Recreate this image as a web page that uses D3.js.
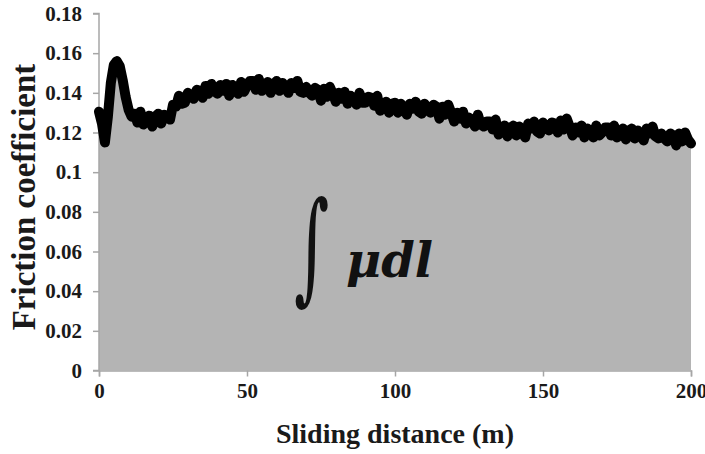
<!DOCTYPE html>
<html>
<head>
<meta charset="utf-8">
<script src="https://cdn.jsdelivr.net/npm/d3@7"></script>
<style>
  body { margin: 0; background: #fff; }
  svg { display: block; }
</style>
</head>
<body>
<svg id="chart" width="705" height="454"></svg>
<script>
// sliding distance (m), one reading per metre
var distance = [
  0,1,2,3,4,5,6,7,8,9,10,11,12,13,14,15,16,17,18,19,
  20,21,22,23,24,25,26,27,28,29,30,31,32,33,34,35,36,37,38,39,
  40,41,42,43,44,45,46,47,48,49,50,51,52,53,54,55,56,57,58,59,
  60,61,62,63,64,65,66,67,68,69,70,71,72,73,74,75,76,77,78,79,
  80,81,82,83,84,85,86,87,88,89,90,91,92,93,94,95,96,97,98,99,
  100,101,102,103,104,105,106,107,108,109,110,111,112,113,114,115,116,117,118,119,
  120,121,122,123,124,125,126,127,128,129,130,131,132,133,134,135,136,137,138,139,
  140,141,142,143,144,145,146,147,148,149,150,151,152,153,154,155,156,157,158,159,
  160,161,162,163,164,165,166,167,168,169,170,171,172,173,174,175,176,177,178,179,
  180,181,182,183,184,185,186,187,188,189,190,191,192,193,194,195,196,197,198,199,
  200
];

// friction coefficient (noisy trace)
var friction = [
  0.1305,0.1245,0.1150,0.1280,0.1450,0.1540,0.1560,0.1535,0.1465,0.1380,
  0.1315,0.1280,0.1295,0.1250,0.1305,0.1240,0.1260,0.1285,0.1230,0.1280,
  0.1295,0.1245,0.1290,0.1275,0.1265,0.1340,0.1330,0.1385,0.1345,0.1350,
  0.1400,0.1380,0.1370,0.1415,0.1410,0.1375,0.1435,0.1395,0.1445,0.1410,
  0.1395,0.1440,0.1410,0.1445,0.1385,0.1440,0.1430,0.1395,0.1455,0.1405,
  0.1435,0.1460,0.1460,0.1415,0.1470,0.1410,0.1425,0.1455,0.1400,0.1445,
  0.1460,0.1410,0.1450,0.1425,0.1400,0.1450,0.1425,0.1460,0.1405,0.1400,
  0.1430,0.1400,0.1385,0.1425,0.1415,0.1360,0.1420,0.1380,0.1430,0.1395,
  0.1355,0.1400,0.1370,0.1405,0.1345,0.1385,0.1375,0.1340,0.1400,0.1350,
  0.1350,0.1380,0.1375,0.1335,0.1385,0.1310,0.1325,0.1355,0.1300,0.1345,
  0.1350,0.1300,0.1345,0.1315,0.1290,0.1345,0.1320,0.1355,0.1305,0.1295,
  0.1345,0.1315,0.1300,0.1340,0.1330,0.1270,0.1330,0.1290,0.1340,0.1300,
  0.1255,0.1300,0.1270,0.1305,0.1245,0.1275,0.1265,0.1230,0.1290,0.1240,
  0.1230,0.1255,0.1255,0.1215,0.1265,0.1190,0.1205,0.1235,0.1180,0.1225,
  0.1235,0.1185,0.1230,0.1200,0.1175,0.1245,0.1220,0.1255,0.1205,0.1195,
  0.1250,0.1225,0.1210,0.1250,0.1245,0.1200,0.1260,0.1215,0.1270,0.1230,
  0.1185,0.1225,0.1200,0.1235,0.1175,0.1220,0.1210,0.1175,0.1235,0.1185,
  0.1200,0.1225,0.1225,0.1185,0.1235,0.1175,0.1190,0.1220,0.1165,0.1210,
  0.1220,0.1170,0.1210,0.1185,0.1160,0.1220,0.1195,0.1230,0.1180,0.1170,
  0.1195,0.1170,0.1155,0.1195,0.1185,0.1135,0.1195,0.1155,0.1200,0.1165,
  0.1145
];

var xTicks = [0, 50, 100, 150, 200];
var yTicks = [0, 0.02, 0.04, 0.06, 0.08, 0.1, 0.12, 0.14, 0.16, 0.18];
var yTickLabels = ["0","0.02","0.04","0.06","0.08","0.1","0.12","0.14","0.16","0.18"];

var svg = d3.select("#chart");
var plotLeft = 99, plotRight = 691, plotTop = 13.5, plotBottom = 370.5;

var xScale = d3.scaleLinear().domain([0, 200]).range([plotLeft, plotRight]);
var yScale = d3.scaleLinear().domain([0, 0.18]).range([plotBottom, plotTop]);

var pts = distance.map(function(d, i) { return [d, friction[i]]; });

// grey area under the curve
var area = d3.area()
    .x(function(d) { return xScale(d[0]); })
    .y0(yScale(0))
    .y1(function(d) { return yScale(d[1]); });

svg.append("path")
    .datum(pts)
    .attr("d", area)
    .style("fill", "#b4b4b4");

// axes
var xAxis = d3.axisBottom(xScale).tickValues(xTicks).tickSize(6).tickPadding(7)
    .tickFormat(function(d) { return d; });
var yAxis = d3.axisLeft(yScale).tickValues(yTicks).tickSize(6).tickPadding(11)
    .tickFormat(function(d, i) { return yTickLabels[i]; });

var gx = svg.append("g")
    .attr("transform", "translate(0," + plotBottom + ")")
    .call(xAxis);
var gy = svg.append("g")
    .attr("transform", "translate(" + plotLeft + ",0)")
    .call(yAxis);

[gx, gy].forEach(function(g) {
    g.select(".domain").style("stroke", "#a6a6a6").style("stroke-width", "1.5px");
    g.selectAll(".tick line").style("stroke", "#a6a6a6").style("stroke-width", "1.5px");
    g.selectAll(".tick text")
        .style("font-family", "Liberation Serif")
        .style("font-weight", "bold")
        .style("font-size", "21px")
        .style("fill", "#1a1a1a");
});
gy.select(".domain").attr("d", "M-6," + plotTop + "H0V" + plotBottom + "H-6");

// friction curve
var line = d3.line()
    .x(function(d) { return xScale(d[0]); })
    .y(function(d) { return yScale(d[1]); });

svg.append("path")
    .datum(pts)
    .attr("d", line)
    .style("fill", "none")
    .style("stroke", "#000")
    .style("stroke-width", "10px")
    .style("stroke-linejoin", "round")
    .style("stroke-linecap", "round");

// axis titles
svg.append("text")
    .attr("x", 395).attr("y", 443)
    .attr("text-anchor", "middle")
    .style("font-family", "Liberation Serif")
    .style("font-weight", "bold")
    .style("font-size", "28px")
    .style("fill", "#1a1a1a")
    .text("Sliding distance (m)");

svg.append("text")
    .attr("transform", "translate(35,197) rotate(-90)")
    .attr("text-anchor", "middle")
    .style("font-family", "Liberation Serif")
    .style("font-weight", "bold")
    .style("font-size", "33px")
    .style("fill", "#1a1a1a")
    .text("Friction coefficient");

// integral label
svg.append("text")
    .attr("transform", "translate(294,288) scale(0.75,1.35)")
    .style("font-family", "DejaVu Serif")
    .style("font-size", "90px")
    .style("fill", "#111")
    .text("\u222B");

svg.append("text")
    .attr("x", 346).attr("y", 277)
    .style("font-family", "DejaVu Serif")
    .style("font-style", "italic")
    .style("font-weight", "bold")
    .style("font-size", "48px")
    .style("fill", "#111")
    .text("\u03BCdl");
</script>
</body>
</html>
